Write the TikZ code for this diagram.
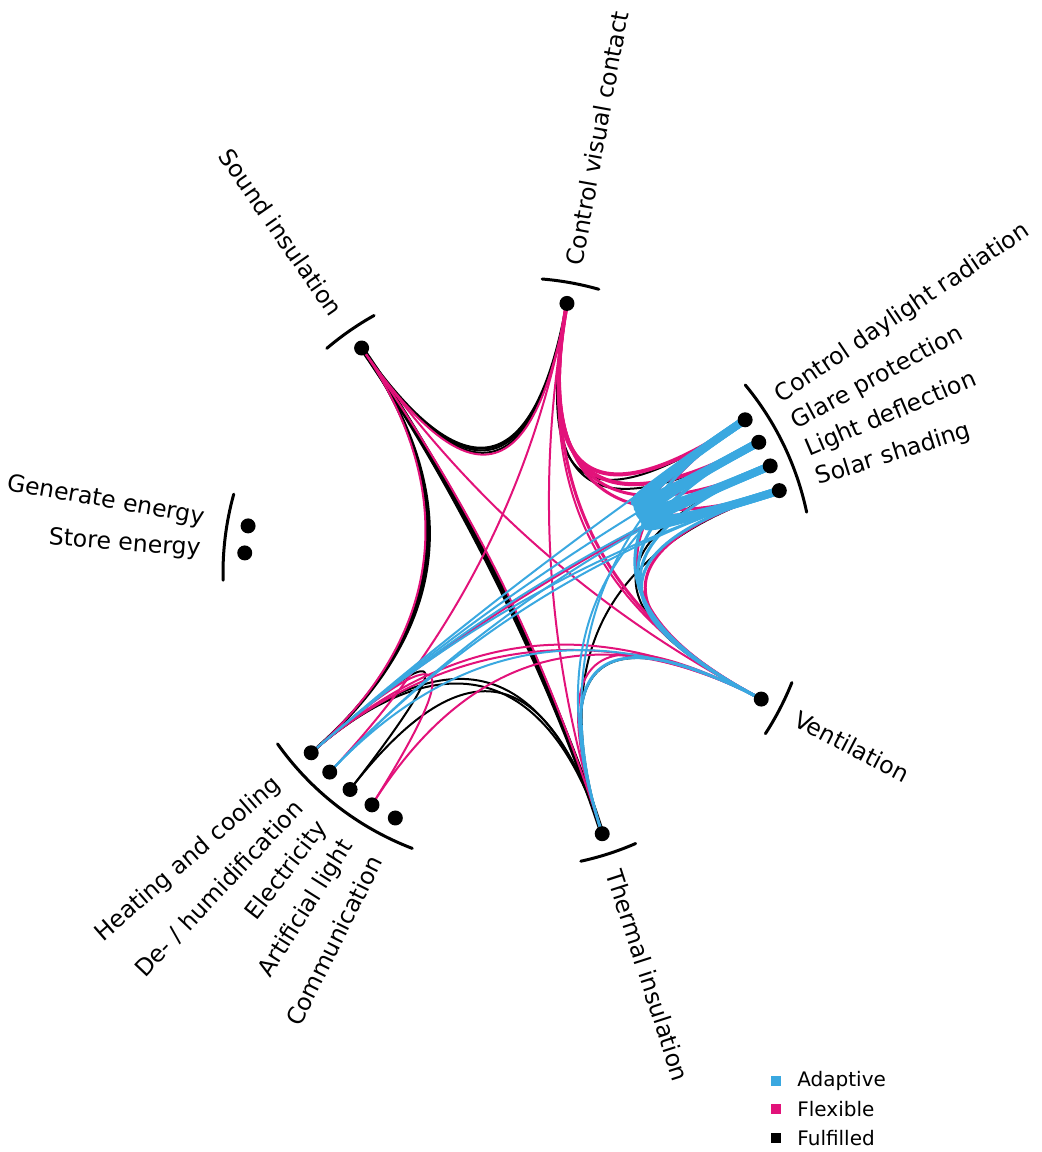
\documentclass[tikz,border=0pt]{standalone}
\usepackage{fontspec}
\setmainfont{DejaVu Sans}
\usepackage{xcolor}
\usepackage{tikz}
\usetikzlibrary{calc}
\definecolor{adaptblue}{RGB}{58,168,224}
\definecolor{flexpink}{RGB}{226,18,122}

\tikzset{
    dot/.style={circle, fill=black, inner sep=0pt, minimum size=7.5pt},
    lbl/.style={font=\fontsize{11.8}{14}\selectfont, inner sep=0pt},
    legtxt/.style={font=\fontsize{10}{12}\selectfont, inner sep=0pt, anchor=west},
    bracket/.style={line width=1.5pt, line cap=round},
    fu/.style={black, line width=1pt},
    fl/.style={flexpink, line width=1pt},
    ad/.style={adaptblue, line width=1pt},
}

% chord through the centre (quadratic bezier)
\newcommand{\chordline}[4][0.667]{%
    \draw[#4] (#2) .. controls ($(#2)!#1!(O)$) and ($(#3)!#1!(O)$) .. (#3);}

\begin{document}
\begin{tikzpicture}[x=0.5pt, y=0.5pt]
    \useasboundingbox (-518,-579) rectangle (523,573);
    \coordinate (O) at (0,0);

    % functions on the circle
    \coordinate (cv) at (79.7:274);
    \coordinate (si) at (124.8:274);
    \coordinate (ge) at (170.1:274);
    \coordinate (se) at (175.8:274);
    \coordinate (hc) at (221.0:274);
    \coordinate (dh) at (226.6:274);
    \coordinate (el) at (232.2:274);
    \coordinate (al) at (237.8:274);
    \coordinate (co) at (243.4:274);
    \coordinate (ti) at (287.9:274);
    \coordinate (ve) at (332.6:274);
    \coordinate (cd) at (34.0:274);
    \coordinate (gp) at (28.5:274);
    \coordinate (ld) at (23.0:274);
    \coordinate (ss) at (17.5:274);

    % fulfilled
    \chordline[0.655]{si}{cv}{fu, line width=1.5pt}
    \chordline[0.667]{si}{cv}{fu}
    \chordline[0.68]{si}{cv}{fu}
    \chordline[0.65]{si}{hc}{fu}
    \chordline[0.66]{si}{hc}{fu}
    \chordline[0.67]{si}{hc}{fu, line width=1.5pt}
    \chordline[0.6]{si}{ti}{fu, line width=2.5pt}
    \chordline[0.7]{si}{ti}{fu}
    \chordline[0.64]{hc}{ti}{fu}
    \chordline[0.67]{hc}{ti}{fu}
    \chordline{el}{ti}{fu}
    \chordline{hc}{el}{fu}
    \chordline{ve}{ti}{fu}
    \chordline{ss}{ti}{fu}
    \chordline[0.7]{cv}{cd}{fu}
    \chordline[0.7]{cv}{gp}{fu}
    \chordline[0.7]{ve}{ld}{fu}

    % flexible
    \chordline[0.69]{si}{cv}{fl}
    \chordline[0.64]{si}{hc}{fl}
    \chordline{si}{ve}{fl}
    \chordline[0.72]{si}{ti}{fl}
    \chordline[0.66]{cv}{cd}{fl, line width=2pt}
    \chordline[0.66]{cv}{gp}{fl, line width=2pt}
    \chordline[0.66]{cv}{ld}{fl, line width=1.5pt}
    \chordline[0.66]{cv}{ss}{fl, line width=1.5pt}
    \chordline[0.65]{cv}{ve}{fl, line width=1.5pt}
    \chordline[0.68]{cv}{ve}{fl}
    \chordline{cv}{ti}{fl}
    \chordline{cv}{dh}{fl}
    \chordline[0.64]{ve}{hc}{fl}
    \chordline[0.69]{ve}{hc}{fl}
    \chordline{ve}{al}{fl}
    \chordline[0.7]{ve}{ti}{fl}
    \chordline{hc}{al}{fl}
    \chordline[0.62]{hc}{ld}{fl}
    \chordline[0.66]{ve}{cd}{fl, line width=1.5pt}
    \chordline[0.66]{ve}{ss}{fl, line width=1.5pt}
    \foreach \a/\b in {cd/gp, cd/ld, cd/ss, gp/ld, gp/ss, ld/ss}
        \chordline[0.62]{\a}{\b}{fl, line width=2pt};

    % adaptive
    \chordline[0.66]{cd}{hc}{ad}
    \chordline[0.67]{gp}{hc}{ad}
    \chordline[0.68]{ld}{hc}{ad}
    \chordline[0.69]{ss}{hc}{ad}
    \chordline[0.66]{ld}{dh}{ad}
    \chordline[0.68]{ss}{dh}{ad}
    \chordline{ve}{dh}{ad}
    \chordline[0.67]{ve}{ti}{ad, line width=1.5pt}
    \chordline[0.64]{cd}{ti}{ad}
    \chordline[0.7]{gp}{ti}{ad}
    \chordline[0.67]{cd}{ve}{ad, line width=1.5pt}
    \chordline[0.672]{gp}{ve}{ad, line width=1.5pt}
    \chordline[0.676]{ld}{ve}{ad, line width=1.5pt}
    \chordline[0.68]{ss}{ve}{ad, line width=1.5pt}
    \foreach \a/\b in {cd/gp, cd/ld, cd/ss, gp/ld, gp/ss, ld/ss}
        \chordline{\a}{\b}{ad, line width=4pt};

    % dots
    \foreach \n in {cv, si, ge, se, hc, dh, el, al, co, ti, ve, cd, gp, ld, ss}
        \node[dot] (\n-dot) at (\n) {};

    % brackets
    \draw[bracket] (74.1:295) arc[start angle=74.1, end angle=85.3, radius=295];
    \draw[bracket] (119.2:295) arc[start angle=119.2, end angle=130.4, radius=295];
    \draw[bracket] (164.5:295) arc[start angle=164.5, end angle=181.4, radius=295];
    \draw[bracket] (215.4:295) arc[start angle=215.4, end angle=249.0, radius=295];
    \draw[bracket] (282.3:295) arc[start angle=282.3, end angle=293.5, radius=295];
    \draw[bracket] (327.0:295) arc[start angle=327.0, end angle=338.2, radius=295];
    \draw[bracket] (11.9:295) arc[start angle=11.9, end angle=39.6, radius=295];

    % labels
    \node[lbl, anchor=west, rotate=79.7] (cv-lbl) at (79.7:313) {Control visual contact};
    \node[lbl, anchor=east, rotate=-55.2] (si-lbl) at (124.8:316) {Sound insulation};
    \node[lbl, anchor=east, rotate=-9.9] (ge-lbl) at (170.1:318) {Generate energy};
    \node[lbl, anchor=east, rotate=-4.2] (se-lbl) at (175.8:318) {Store energy};
    \node[lbl, anchor=east, rotate=41.0] (hc-lbl) at (221.0:318) {Heating and cooling};
    \node[lbl, anchor=east, rotate=46.6] (dh-lbl) at (226.6:318) {De- / humidification};
    \node[lbl, anchor=east, rotate=52.2] (el-lbl) at (232.2:318) {Electricity};
    \node[lbl, anchor=east, rotate=57.8] (al-lbl) at (237.8:318) {Artificial light};
    \node[lbl, anchor=east, rotate=63.4] (co-lbl) at (243.4:318) {Communication};
    \node[lbl, anchor=west, rotate=-72.1] (ti-lbl) at (287.9:313) {Thermal insulation};
    \node[lbl, anchor=west, rotate=-27.4] (ve-lbl) at (332.6:313) {Ventilation};
    \node[lbl, anchor=west, rotate=34.0] (cd-lbl) at (34.0:313) {Control daylight radiation};
    \node[lbl, anchor=west, rotate=28.5] (gp-lbl) at (28.5:313) {Glare protection};
    \node[lbl, anchor=west, rotate=23.0] (ld-lbl) at (23.0:313) {Light deflection};
    \node[lbl, anchor=west, rotate=17.5] (ss-lbl) at (17.5:313) {Solar shading};

    % legend
    \fill[adaptblue] (253,-513) rectangle (263,-503);
    \fill[flexpink] (253,-541) rectangle (263,-531);
    \fill[black] (253,-570) rectangle (263,-560);
    \node[legtxt] (leg-ad) at (279,-508) {Adaptive};
    \node[legtxt] (leg-fl) at (279,-536) {Flexible};
    \node[legtxt] (leg-fu) at (279,-565) {Fulfilled};
\end{tikzpicture}
\end{document}
